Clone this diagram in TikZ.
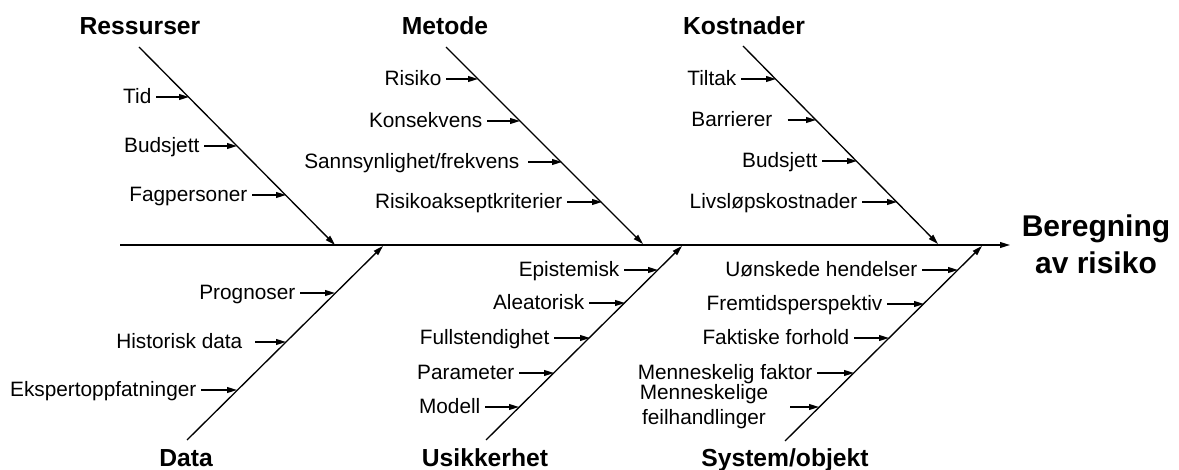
\documentclass[tikz,border=0pt]{standalone}
\usepackage{fontspec}
\setmainfont{Liberation Sans}
\usetikzlibrary{arrows.meta}

\tikzset{every picture/.style={line width=1pt}}
\tikzset{
	txt/.style={inner xsep=3pt, inner ysep=1pt, font=\fontsize{15.6}{18.75}\selectfont},
	lbl/.style={txt, anchor=east, text height=11pt, text depth=0.5pt},
	ttl/.style={anchor=base, font=\bfseries\fontsize{18.5}{22}\selectfont},
	cause/.style={-{Triangle[length=7.5pt,width=4.4pt]}},
	bone/.style={-{Triangle[length=7.5pt,width=4.4pt]}},
}

\begin{document}
\begin{tikzpicture}[x=0.75pt,y=0.75pt,yscale=-1,xscale=1]
	\useasboundingbox (0,0) rectangle (1179,470);

	%Spine
	\coordinate (spL) at (120,245);
	\coordinate (spR) at (1010,245);
	\draw [bone] (spL) -- (spR);
	\node [align=center, font=\bfseries\fontsize{22.5}{27.75}\selectfont] (res) at (1096,244) {Beregning\\av risiko};

	%Bones
	\coordinate (rsA) at (139,47);  \coordinate (rsB) at (335,245);
	\coordinate (meA) at (446,47);  \coordinate (meB) at (643,244);
	\coordinate (koA) at (743,46);  \coordinate (koB) at (938,244);
	\coordinate (daA) at (187,440); \coordinate (daB) at (383,246);
	\coordinate (usA) at (486,440); \coordinate (usB) at (682,246);
	\coordinate (syA) at (785,441); \coordinate (syB) at (982,246);
	\draw [bone] (rsA) -- (rsB);
	\draw [bone] (meA) -- (meB);
	\draw [bone] (koA) -- (koB);
	\draw [bone] (daA) -- (daB);
	\draw [bone] (usA) -- (usB);
	\draw [bone] (syA) -- (syB);

	% Titles
	\node [ttl] (ressurser) at (140,35) {Ressurser};
	\node [ttl] (metode) at (445,35) {Metode};
	\node [ttl] (kostnader) at (744,35) {Kostnader};
	\node [ttl] (data) at (186,466) {Data};
	\node [ttl] (usikkerhet) at (485,466) {Usikkerhet};
	\node [ttl] (system) at (785,466) {System/objekt};

	% Ressurser
	\node [lbl] (tid) at (156,97) {Tid};
	\node [lbl] (budsjettA) at (204,146) {Budsjett};
	\node [lbl] (fagpers) at (252,195) {Fagpersoner};
	\coordinate (tidT) at (189,97);
	\coordinate (budsjettAT) at (237,146);
	\coordinate (fagpersT) at (286,195);
	\draw [cause] (tid) -- (tidT);
	\draw [cause] (budsjettA) -- (budsjettAT);
	\draw [cause] (fagpers) -- (fagpersT);

	% Metode
	\node [lbl] (risiko) at (446,79) {Risiko};
	\node [lbl] (konsekvens) at (487,121) {Konsekvens};
	\node [lbl] (sannsyn) at (524,162) {Sannsynlighet/frekvens};
	\node [lbl] (akseptkrit) at (567,202) {Risikoakseptkriterier};
	\coordinate (risikoT) at (478,79);
	\coordinate (konsekvensT) at (520,121);
	\coordinate (sannsynT) at (562,162);
	\coordinate (akseptkritT) at (602,202);
	\draw [cause] (risiko) -- (risikoT);
	\draw [cause] (konsekvens) -- (konsekvensT);
	\draw [cause, shorten <=3] (sannsyn) -- (sannsynT);
	\draw [cause] (akseptkrit) -- (akseptkritT);

	% Kostnader
	\node [lbl] (tiltak) at (741,79) {Tiltak};
	\node [lbl] (barrierer) at (777,120) {Barrierer};
	\node [lbl] (budsjettB) at (822,161) {Budsjett};
	\node [lbl] (livslop) at (862,202) {Livsløpskostnader};
	\coordinate (tiltakT) at (776,79);
	\coordinate (barriererT) at (816,120);
	\coordinate (budsjettBT) at (857,161);
	\coordinate (livslopT) at (897,202);
	\draw [cause] (tiltak) -- (tiltakT);
	\draw [cause, shorten <=8] (barrierer) -- (barriererT);
	\draw [cause] (budsjettB) -- (budsjettBT);
	\draw [cause] (livslop) -- (livslopT);

	% Data
	\node [lbl] (prognoser) at (300,293) {Prognoser};
	\node [lbl] (historisk) at (247,342) {Historisk data};
	\node [lbl] (ekspert) at (201,390) {Ekspertoppfatninger};
	\coordinate (prognoserT) at (335,293);
	\coordinate (historiskT) at (286,342);
	\coordinate (ekspertT) at (237,390);
	\draw [cause] (prognoser) -- (prognoserT);
	\draw [cause, shorten <=6] (historisk) -- (historiskT);
	\draw [cause] (ekspert) -- (ekspertT);

	% Usikkerhet
	\node [lbl] (epistemisk) at (624,270) {Epistemisk};
	\node [lbl] (aleatorisk) at (589,303) {Aleatorisk};
	\node [lbl] (fullst) at (554,338) {Fullstendighet};
	\node [lbl] (parameter) at (519,373) {Parameter};
	\node [lbl] (modell) at (485,407) {Modell};
	\coordinate (epistemiskT) at (658,270);
	\coordinate (aleatoriskT) at (625,303);
	\coordinate (fullstT) at (590,338);
	\coordinate (parameterT) at (554,373);
	\coordinate (modellT) at (519,407);
	\draw [cause] (epistemisk) -- (epistemiskT);
	\draw [cause] (aleatorisk) -- (aleatoriskT);
	\draw [cause] (fullst) -- (fullstT);
	\draw [cause] (parameter) -- (parameterT);
	\draw [cause] (modell) -- (modellT);

	% System/objekt
	\node [lbl] (uonskede) at (922,270) {Uønskede hendelser};
	\node [lbl] (fremtid) at (887,304) {Fremtidsperspektiv};
	\node [lbl] (faktiske) at (854,338) {Faktiske forhold};
	\node [lbl] (mfaktor) at (817,373) {Menneskelig faktor};
	\node [txt, align=center] (mfeil) at (704,407) {Menneskelige\\feilhandlinger};
	\coordinate (uonskedeT) at (958,270);
	\coordinate (fremtidT) at (924,304);
	\coordinate (faktiskeT) at (889,338);
	\coordinate (mfaktorT) at (854,373);
	\coordinate (mfeilT) at (819,407);
	\draw [cause] (uonskede) -- (uonskedeT);
	\draw [cause] (fremtid) -- (fremtidT);
	\draw [cause] (faktiske) -- (faktiskeT);
	\draw [cause] (mfaktor) -- (mfaktorT);
	\draw [cause, shorten <=13] (mfeil.east |- mfeilT) -- (mfeilT);

\end{tikzpicture}
\end{document}
